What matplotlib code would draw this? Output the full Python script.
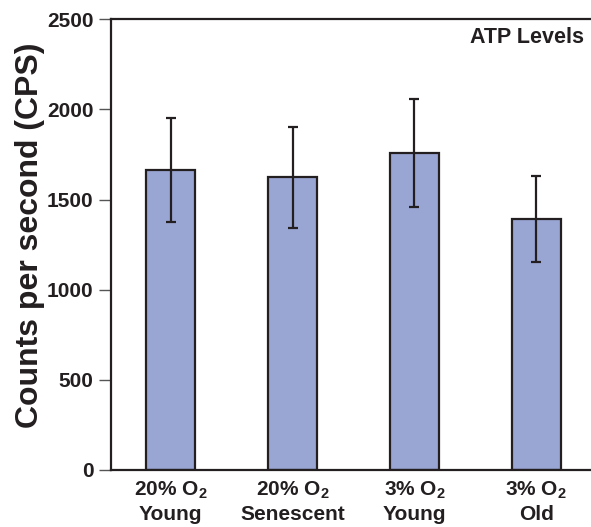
import numpy as np
import matplotlib
matplotlib.use("Agg")
import matplotlib.pyplot as plt

# ATP levels per condition (counts per second), mean and error
groups = ["20% O$_2$\nYoung", "20% O$_2$\nSenescent", "3% O$_2$\nYoung", "3% O$_2$\nOld"]
cps_mean = [1665, 1623, 1758, 1391]
cps_err = [288, 279, 301, 239]

plt.rcParams['font.family'] = ['Liberation Sans', 'DejaVu Sans']
plt.rcParams['font.weight'] = 'bold'
plt.rcParams['mathtext.fontset'] = 'custom'
plt.rcParams['mathtext.bf'] = 'Liberation Sans:bold'
plt.rcParams['mathtext.rm'] = 'Liberation Sans:bold'
plt.rcParams['mathtext.default'] = 'bf'

ink = '#231f20'
fig = plt.figure(figsize=(5.91, 5.27), dpi=100)
ax = fig.add_axes([0.1873, 0.1082, 0.8127, 0.8552])

x = np.arange(len(groups))
ax.bar(x, cps_mean, width=0.404, color='#99a5d3', edgecolor=ink, linewidth=1.6, zorder=2)
ax.errorbar(x, cps_mean, yerr=cps_err, fmt='none', ecolor=ink, elinewidth=1.6,
            capsize=3.5, capthick=1.6, zorder=3)

ax.set_xlim(-0.492, 3.448)
ax.set_ylim(0, 2500)
ax.set_yticks([0, 500, 1000, 1500, 2000, 2500])
ax.set_xticks(x)
ax.set_xticklabels(groups, fontsize=15, fontweight='bold', color=ink, linespacing=1.25)
ax.tick_params(axis='x', length=0, pad=7)
ax.tick_params(axis='y', length=8.6, width=1, color='#555555', pad=3.6,
               labelsize=15, labelcolor=ink)
for t in ax.get_yticklabels():
    t.set_fontweight('bold')

for side in ['left', 'top', 'bottom']:
    ax.spines[side].set_linewidth(1.6)
    ax.spines[side].set_color(ink)
ax.spines['right'].set_visible(False)

ax.set_ylabel("Counts per second (CPS)", fontsize=23, fontweight='bold', color=ink)
ax.yaxis.set_label_coords(-0.136, 0.52)
ax.text(0.985, 0.96, "ATP Levels", transform=ax.transAxes, ha='right', va='center',
        fontsize=15.5, fontweight='bold', color=ink)

fig.savefig("out.png", dpi=100)
